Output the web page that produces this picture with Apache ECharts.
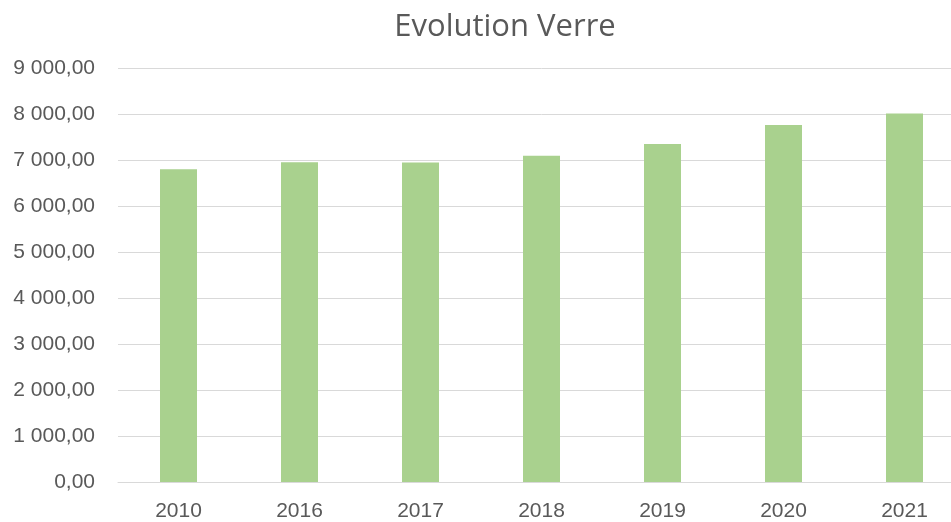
<!DOCTYPE html>
<html>
<head>
<meta charset="utf-8">
<script src="https://cdn.jsdelivr.net/npm/echarts@6/dist/echarts.min.js"></script>
<style>
  html, body { margin: 0; padding: 0; background: #ffffff; overflow: hidden; }
  #wrap { width: 951px; height: 522px; overflow: hidden; }
  /* the plot area runs a little past the right edge of the frame */
  #chart { width: 980px; height: 522px; }
</style>
</head>
<body>
<div id="wrap"><div id="chart"></div></div>
<script>
// Glass collection per year
const years = ['2010', '2016', '2017', '2018', '2019', '2020', '2021'];
const verre = [6800, 6950, 6945, 7095, 7350, 7760, 8010];

// French number style: space as thousands separator, comma decimal, 2 decimals
function formatFr(v) {
  const parts = v.toFixed(2).split('.');
  const intPart = parts[0].replace(/\B(?=(\d{3})+(?!\d))/g, ' ');
  return intPart + ',' + parts[1];
}

const chart = echarts.init(document.getElementById('chart'));
chart.setOption({
  backgroundColor: '#ffffff',
  animation: false,
  title: {
    text: 'Evolution Verre',
    left: 500,
    top: 7,
    textAlign: 'center',
    textStyle: {
      fontFamily: 'Open Sans',
      fontSize: 31,
      fontWeight: 'normal',
      color: '#595959'
    }
  },
  grid: {
    left: 118,
    width: 847,
    top: 68,
    bottom: 40,
    containLabel: false
  },
  xAxis: {
    type: 'category',
    data: years,
    axisLine: { show: true, lineStyle: { color: '#d9d9d9', width: 1 } },
    axisTick: { show: false },
    axisLabel: {
      color: '#595959',
      fontFamily: 'Liberation Sans',
      fontSize: 21,
      margin: 19
    }
  },
  yAxis: {
    type: 'value',
    min: 0,
    max: 9000,
    interval: 1000,
    axisLine: { show: false },
    axisTick: { show: false },
    splitLine: { lineStyle: { color: '#d9d9d9', width: 1 } },
    axisLabel: {
      color: '#595959',
      fontFamily: 'Liberation Sans',
      fontSize: 21,
      margin: 23,
      formatter: formatFr
    }
  },
  series: [{
    type: 'bar',
    data: verre,
    barWidth: 37,
    itemStyle: { color: '#a9d18e' }
  }]
});
</script>
</body>
</html>
